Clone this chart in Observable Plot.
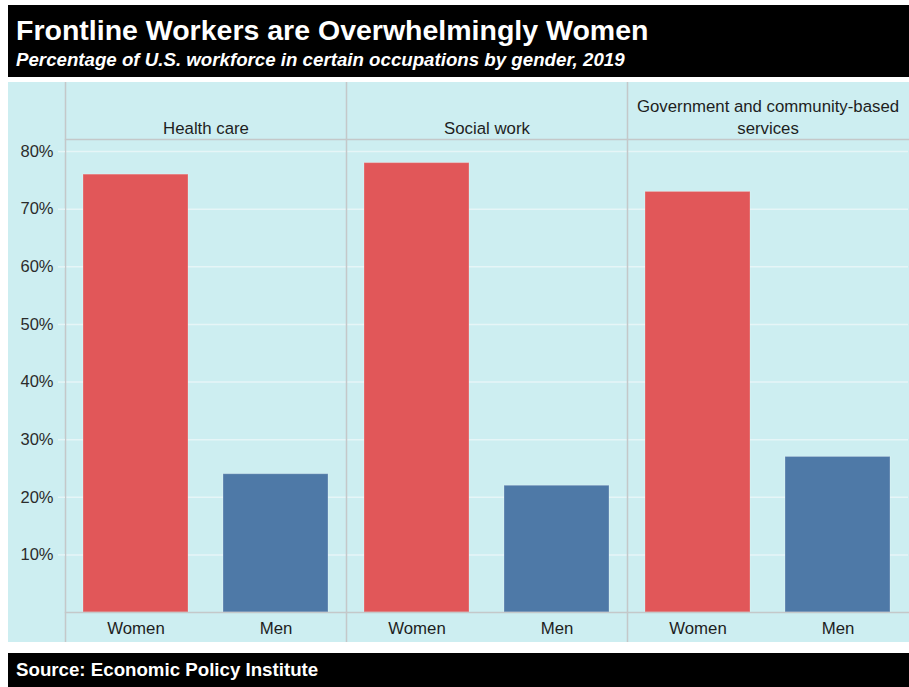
<!DOCTYPE html>
<html>
<head>
<meta charset="utf-8">
<script src="https://cdn.jsdelivr.net/npm/d3@7"></script>
<script src="https://cdn.jsdelivr.net/npm/@observablehq/plot@0.6"></script>
<style>
  body { margin: 0; background: #fff; font-family: "Liberation Sans", Arial, sans-serif; }
  #head { position: absolute; left: 8px; top: 5px; width: 901px; height: 72px; background: #000; color: #fff; }
  #title { position: absolute; left: 8px; top: 9px; font-weight: bold; font-size: 28.5px; white-space: nowrap; }
  #subtitle { position: absolute; left: 8px; top: 44px; font-weight: bold; font-style: italic; font-size: 18.7px; white-space: nowrap; }
  #chart { position: absolute; left: 8px; top: 82px; width: 901px; height: 560px; background: #cdeef1; }
  #foot { position: absolute; left: 8px; top: 653px; width: 901px; height: 34px; background: #000; color: #fff; }
  #source { position: absolute; left: 8px; top: 6px; font-weight: bold; font-size: 18.7px; white-space: nowrap; }
</style>
</head>
<body>
<div id="head">
  <div id="title">Frontline Workers are Overwhelmingly Women</div>
  <div id="subtitle">Percentage of U.S. workforce in certain occupations by gender, 2019</div>
</div>
<div id="chart"></div>
<div id="foot"><div id="source">Source: Economic Policy Institute</div></div>
<script>
const categories = ["Health care", "Social work", "Government and community-based services"];
const categoryLabels = ["Health care", "Social work", "Government and community-based\nservices"];
const genders = ["Women", "Men"];
const womenValues = [76, 78, 73];
const menValues = [24, 22, 27];
const yTicks = [10, 20, 30, 40, 50, 60, 70, 80];
const genderColors = ["#e15759", "#4e79a7"];

const data = [];
categories.forEach((c, i) => {
  data.push({category: c, gender: genders[0], value: womenValues[i]});
  data.push({category: c, gender: genders[1], value: menValues[i]});
});

const labelOf = new Map(categories.map((c, i) => [c, categoryLabels[i]]));

const chart = Plot.plot({
  width: 901,
  height: 560,
  marginLeft: 56,
  marginRight: 0,
  marginTop: 57,
  marginBottom: 30,
  style: {background: "transparent", fontFamily: "Liberation Sans, Arial, sans-serif"},
  fx: {domain: categories, padding: 0, label: null},
  x: {domain: genders, paddingInner: 0.25, paddingOuter: 0.125, label: null},
  y: {domain: [0, 82.1], label: null},
  color: {domain: genders, range: genderColors},
  marks: [
    Plot.gridY(yTicks, {stroke: "#e6f5f7", strokeOpacity: 1, strokeWidth: 1.5}),
    Plot.barY(data, {fx: "category", x: "gender", y: "value", fill: "gender", stroke: "#ffffff", strokeOpacity: 0.25, strokeWidth: 1}),
    Plot.frame({anchor: "top", stroke: "#c4c8c9", strokeWidth: 1.5}),
    Plot.frame({anchor: "bottom", stroke: "#c4c8c9", strokeWidth: 1.5}),
    Plot.frame({anchor: "left", stroke: "#c4c8c9", strokeWidth: 1.5, insetTop: -57, insetBottom: -30}),
    Plot.axisY({ticks: yTicks, tickFormat: d => d + "%", tickSize: 7, tickPadding: 5, stroke: "#e6f5f7", strokeWidth: 1.5, fill: "#2b2b2b", fontSize: 16.5}),
    Plot.axisX({tickSize: 0, tickPadding: 10, fill: "#1e1e1e", fontSize: 16.8}),
    Plot.axisFx({anchor: "top", tickSize: 0, tickPadding: 6, fill: "#1e1e1e", fontSize: 16.8, lineHeight: 1.3, tickFormat: d => labelOf.get(d)})
  ]
});
document.getElementById("chart").appendChild(chart);
</script>
</body>
</html>
